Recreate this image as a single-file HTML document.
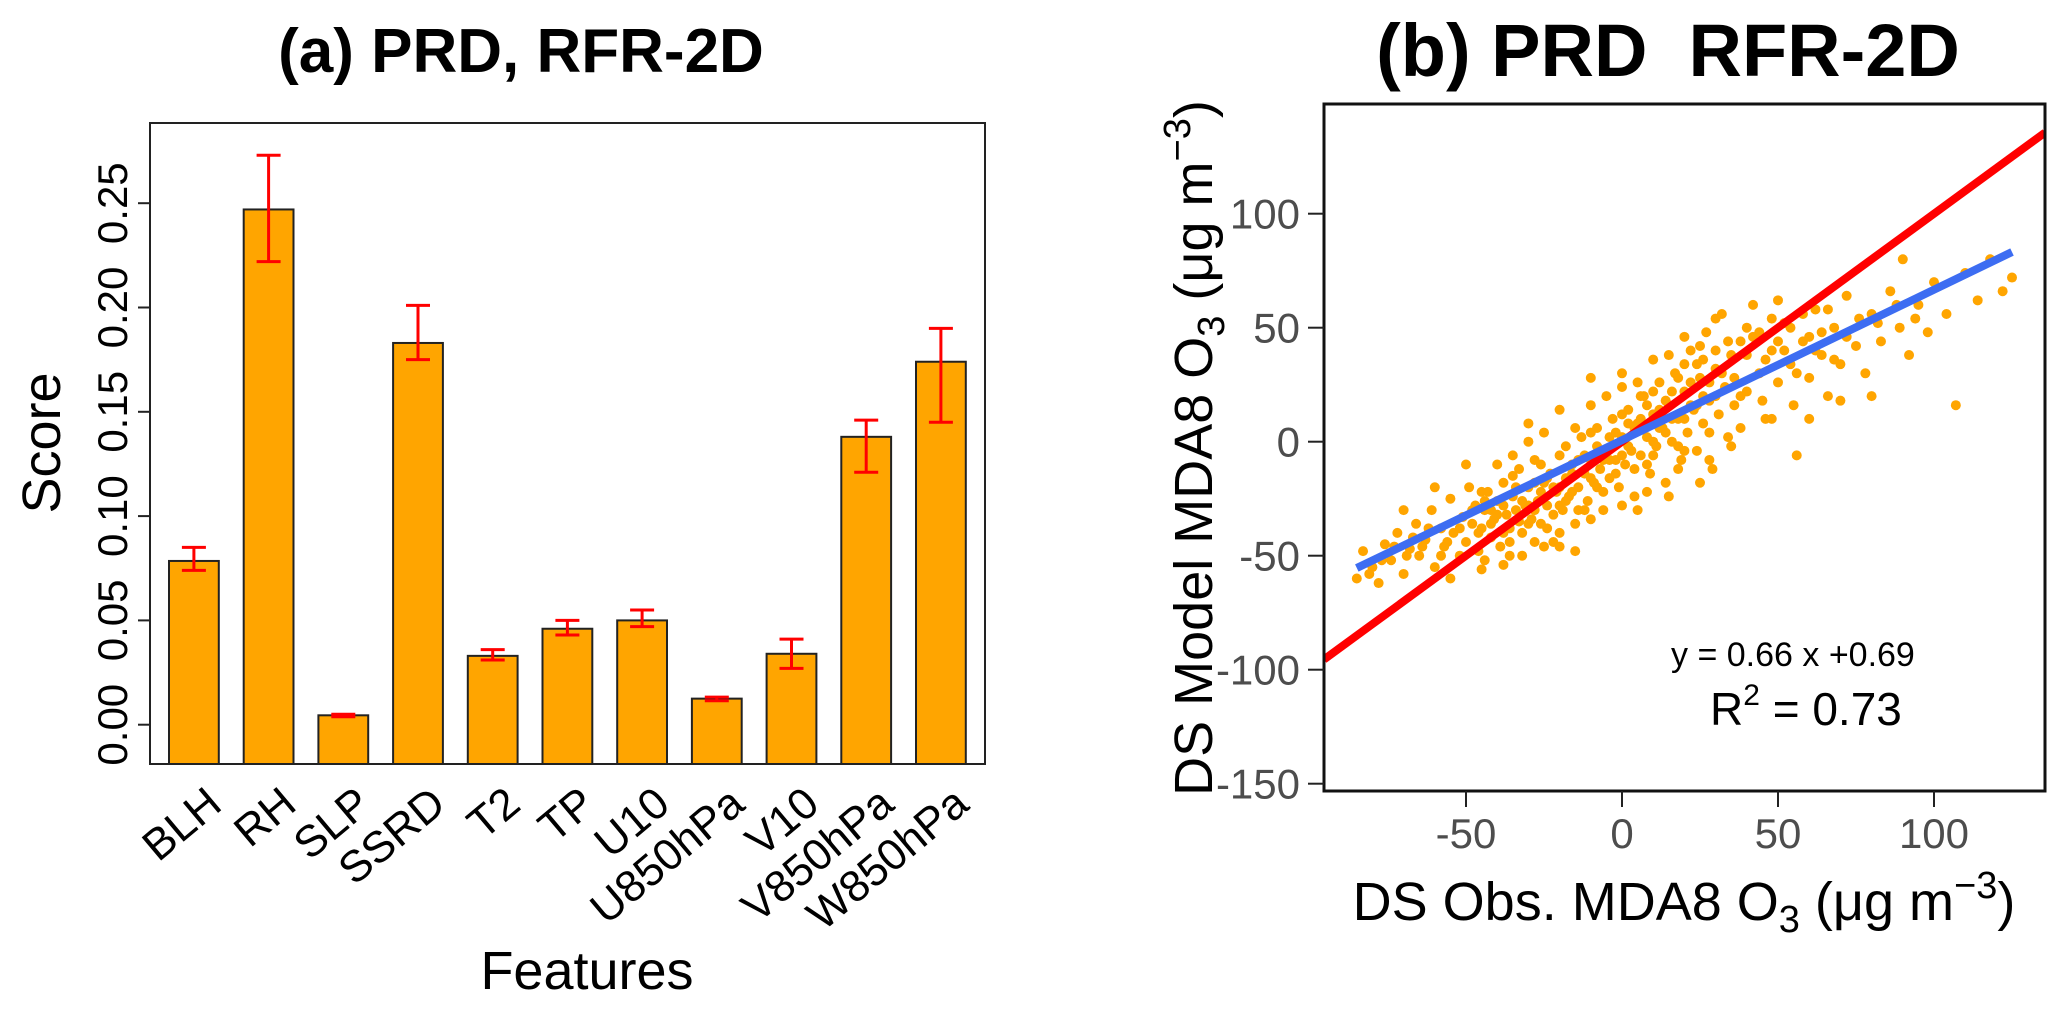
<!DOCTYPE html>
<html><head><meta charset="utf-8"><style>
html,body{margin:0;padding:0;background:#fff}
svg{display:block;font-family:"Liberation Sans",Arial,sans-serif}
</style></head><body>
<svg id="fig" width="2067" height="1012" viewBox="0 0 2067 1012" xmlns="http://www.w3.org/2000/svg">
<g id="left"></g>
<g id="right"></g>
</svg>
<script>
const features = ["BLH","RH","SLP","SSRD","T2","TP","U10","U850hPa","V10","V850hPa","W850hPa"];
const scores = [0.0785,0.247,0.0045,0.183,0.033,0.046,0.050,0.0125,0.034,0.138,0.174];
const errLow = [0.074,0.222,0.0038,0.175,0.031,0.043,0.047,0.0115,0.027,0.121,0.145];
const errHigh = [0.085,0.273,0.0050,0.201,0.036,0.050,0.055,0.0132,0.041,0.146,0.190];
const scoreTicks = [0.00,0.05,0.10,0.15,0.20,0.25];
const scoreTickLabels = ["0.00","0.05","0.10","0.15","0.20","0.25"];

const obsX = [-85,-83,-80,-78,-76,-74,-72,-70,-68,-66,-65,-63,-61,-60,-58,-57,-55,-54,-52,-51,-50,-49,-48,-47,-46,-45,-44,-43,-42,-41,-40,-39,-38,-37,-36,-35,-34,-33,-32,-31,-30,-29,-28,-27,-26,-25,-24,-23,-22,-21,-20,-19,-18,-17,-16,-15,-14,-13,-12,-11,-10,-9,-8,-7,-6,-5,-4,-3,-2,-1,0,1,2,3,4,5,6,7,8,9,10,11,12,13,14,15,16,17,18,19,20,21,22,23,24,25,26,27,28,29,30,31,32,33,34,35,36,38,40,42,44,46,48,50,52,54,56,58,60,62,64,66,68,70,72,75,78,80,83,86,89,92,95,98,100,104,107,110,114,118,122,125,
-45,-42,-38,-35,-33,-30,-28,-26,-24,-22,-20,-18,-16,-14,-12,-10,-8,-6,-4,-2,0,2,4,6,8,10,12,14,16,18,20,22,24,26,28,30,-60,-55,-44,-36,-30,-20,-10,0,10,20,30,40,50,60,70,80,90,-70,-50,-25,-15,5,15,25,
-48,-46,-44,-42,-40,-38,-36,-34,-32,-30,-28,-26,-24,-22,-20,-18,-16,-14,-12,-10,-8,-6,-4,-2,0,2,4,6,8,10,12,14,16,18,20,22,24,26,28,30,32,34,36,38,40,42,44,46,48,50,52,54,56,58,60,62,64,66,68,72,76,82,88,94,-52,-56,-58,-62,-64,-67,-69,-73,-77,-81,-40,-35,-30,-25,-20,-15,-10,-5,0,5,10,15,20,25,35,45,55,-45,-38,-32,-28,-20,-10,0,8,18,28,38,48];
const modY = [-60,-48,-55,-62,-45,-52,-40,-58,-47,-36,-50,-43,-30,-55,-38,-46,-25,-40,-50,-33,-44,-20,-36,-28,-48,-38,-30,-22,-42,-34,-26,-46,-18,-32,-38,-24,-30,-12,-40,-28,-20,-34,-8,-26,-36,-18,-28,-14,-44,-22,-6,-30,-16,-24,-10,-36,-20,2,-14,-26,-8,-18,6,-12,-30,-4,-16,10,-8,-20,2,-10,14,-4,-24,8,-6,20,2,-14,12,-2,26,6,-18,16,0,30,10,-8,22,4,40,14,-4,28,8,48,18,-12,32,12,56,24,2,38,16,44,22,60,30,10,40,26,52,34,-6,44,28,58,38,20,50,34,64,42,30,56,44,66,50,38,60,48,70,56,16,74,62,80,66,72,
-22,-30,-40,-15,-35,-28,-18,-10,-38,-20,-28,-2,-22,-8,-30,4,-20,-8,2,-14,12,-2,6,20,-10,0,14,4,22,-2,10,26,16,36,4,20,-20,-60,-52,-50,8,14,28,30,36,46,54,50,62,10,18,20,80,-30,-10,-46,-48,-30,-24,-18,
-30,-40,-26,-36,-32,-28,-44,-20,-26,-36,-30,-22,-16,-32,-20,-26,-14,-30,-6,-16,-2,-22,-8,4,-6,8,-12,10,16,-6,6,18,10,28,-4,16,34,20,26,40,30,44,28,20,38,46,48,36,54,44,40,50,30,56,46,40,48,58,36,46,54,52,60,54,-38,-44,-50,-38,-46,-42,-50,-46,-52,-58,-10,-6,0,4,-40,6,16,20,24,26,22,38,34,42,-2,18,16,-56,-54,-50,-44,-46,-34,-28,-22,-12,-8,6,10];
const xTicks = [-50,0,50,100];
const yTicks = [-150,-100,-50,0,50,100];
const fitSlope = 0.66, fitIntercept = 0.69;

const NS = "http://www.w3.org/2000/svg";
function mk(parent, tag, attrs, text){
  const e = document.createElementNS(NS, tag);
  for (const k in attrs) e.setAttribute(k, attrs[k]);
  if (text !== undefined) e.textContent = text;
  parent.appendChild(e);
  return e;
}

/* ---------- Left panel ---------- */
const L = document.getElementById('left');
const lx0 = 150, lx1 = 985, ly0 = 123, ly1 = 764;
const yZero = 724.7, pxPerUnit = 2086;
const ys = v => yZero - v * pxPerUnit;
const barX = i => 169 + i * 74.7;
const barW = 49.8;

let t = mk(L,'text',{x:521,y:72,'text-anchor':'middle','font-size':62,'font-weight':'bold'},'(a) PRD, RFR-2D');



features.forEach((f,i)=>{
  const b = mk(L,'rect',{x:barX(i),y:ys(scores[i]),width:barW,height:ly1-ys(scores[i]),fill:'#FFA500',stroke:'#222','stroke-width':2});
  
  
  const cx = barX(i)+barW/2;
  const eg = mk(L,'g',{stroke:'#ff0000','stroke-width':3,fill:'none'});
  
  
  mk(eg,'line',{x1:cx,x2:cx,y1:ys(errLow[i]),y2:ys(errHigh[i])});
  mk(eg,'line',{x1:cx-12,x2:cx+12,y1:ys(errLow[i]),y2:ys(errLow[i])});
  mk(eg,'line',{x1:cx-12,x2:cx+12,y1:ys(errHigh[i]),y2:ys(errHigh[i])});
  const lbl = mk(L,'text',{x:0,y:0,'text-anchor':'end','font-size':44,transform:`translate(${cx+10},${ly1+20}) rotate(-40)`,'dominant-baseline':'hanging'},f);
  
  
});
const lbox = mk(L,'rect',{x:lx0,y:ly0,width:lx1-lx0,height:ly1-ly0,fill:'none',stroke:'#222','stroke-width':2});


scoreTicks.forEach((v,i)=>{
  mk(L,'line',{x1:lx0-12,x2:lx0,y1:ys(v),y2:ys(v),stroke:'#222','stroke-width':2});
  const tl = mk(L,'text',{x:0,y:0,'text-anchor':'middle','font-size':42,transform:`translate(127,${ys(v)}) rotate(-90)`},scoreTickLabels[i]);
  
  
});
t = mk(L,'text',{x:0,y:0,'text-anchor':'middle','font-size':54,transform:'translate(60,443) rotate(-90)'},'Score');


t = mk(L,'text',{x:587,y:989,'text-anchor':'middle','font-size':54},'Features');



/* ---------- Right panel ---------- */
const R = document.getElementById('right');
const rx0 = 1324, rx1 = 2045, ry0 = 104, ry1 = 791;
const sx = v => 1622 + v * 3.12;
const sy = v => 441.7 - v * 2.28;

t = mk(R,'text',{x:1668,y:76,'text-anchor':'middle','font-size':74,'font-weight':'bold'},'(b) PRD\u00a0\u00a0RFR-2D');



mk(R,'clipPath',{id:'rclip'});
mk(document.getElementById('rclip'),'rect',{x:rx0,y:ry0,width:rx1-rx0,height:ry1-ry0});
const pts = mk(R,'g',{fill:'#FFA500','clip-path':'url(#rclip)'});


obsX.forEach((x,i)=>{
  const c = mk(pts,'circle',{cx:sx(x),cy:sy(modY[i]),r:5});
  
  
});
const xmin = (rx0-1622)/3.12, xmax = (rx1-1622)/3.12;
const oneLine = mk(R,'line',{x1:sx(xmin),y1:sy(xmin),x2:sx(xmax),y2:sy(xmax),stroke:'#ff0000','stroke-width':8,'clip-path':'url(#rclip)'});


const fx0 = -85, fx1 = 125;
const fitLine = mk(R,'line',{x1:sx(fx0),y1:sy(fitSlope*fx0+fitIntercept),x2:sx(fx1),y2:sy(fitSlope*fx1+fitIntercept),stroke:'#3d6df2','stroke-width':8});



const rbox = mk(R,'rect',{x:rx0,y:ry0,width:rx1-rx0,height:ry1-ry0,fill:'none',stroke:'#111','stroke-width':3});


xTicks.forEach(v=>{
  mk(R,'line',{x1:sx(v),x2:sx(v),y1:ry1,y2:ry1+16,stroke:'#222','stroke-width':2});
  const tl = mk(R,'text',{x:sx(v),y:848,'text-anchor':'middle','font-size':42,fill:'#4d4d4d'},String(v));
  
  
});
yTicks.forEach(v=>{
  mk(R,'line',{x1:rx0-16,x2:rx0,y1:sy(v),y2:sy(v),stroke:'#222','stroke-width':2});
  const tl = mk(R,'text',{x:1300,y:sy(v)+15,'text-anchor':'end','font-size':42,fill:'#4d4d4d'},String(v));
  
  
});
t = mk(R,'text',{x:1684,y:920,'text-anchor':'middle','font-size':54});
t.innerHTML = 'DS Obs. MDA8 O<tspan font-size="38" dy="12">3</tspan><tspan dy="-12"> (μg m</tspan><tspan font-size="38" dy="-22">−3</tspan><tspan dy="22">)</tspan>';


t = mk(R,'text',{x:0,y:0,'text-anchor':'middle','font-size':54,transform:'translate(1212,448) rotate(-90)'});
t.innerHTML = 'DS Model MDA8 O<tspan font-size="38" dy="12">3</tspan><tspan dy="-12"> (μg m</tspan><tspan font-size="38" dy="-22">−3</tspan><tspan dy="22">)</tspan>';


t = mk(R,'text',{x:1671,y:666,'font-size':34},'y =  0.66 x +0.69');


t = mk(R,'text',{x:1710,y:725,'font-size':46});
t.innerHTML = 'R<tspan font-size="30" dy="-20">2</tspan><tspan dy="20"> =  0.73</tspan>';


</script>
</body></html>
